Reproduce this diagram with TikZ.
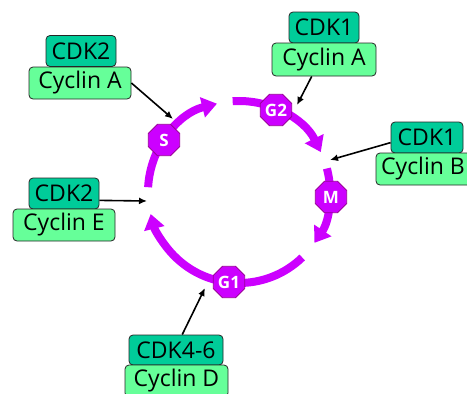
\documentclass[tikz,border=0pt]{standalone}
\usepackage{fontspec}
\setmainfont{Open Sans}
\usetikzlibrary{shapes.geometric,arrows.meta}
\definecolor{cdkcol}{HTML}{00CC99}
\definecolor{cyccol}{HTML}{66FF99}
\definecolor{phasecol}{HTML}{CC00FF}
\definecolor{phaseedge}{HTML}{990099}
\begin{document}
\begin{tikzpicture}[x=1pt,y=-1pt,
  boxbase/.style={draw=black!85, line width=0.8pt, rounded corners=4pt, inner sep=0pt,
    font=\fontsize{23}{26}\selectfont},
  cdkbox/.style={boxbase, fill=cdkcol, minimum height=31pt},
  cycbox/.style={boxbase, fill=cyccol, minimum height=32pt},
  phase/.style={regular polygon, regular polygon sides=8, fill=phasecol, draw=phaseedge,
    line width=0.8pt, minimum size=34pt, inner sep=0pt, text=white,
    font=\fontsize{17}{17}\selectfont\bfseries},
  cyclearc/.style={phasecol, line width=8pt, -{Triangle[length=15pt,width=20pt]}},
  link/.style={black, line width=1.6pt, -{Latex[length=8pt,width=7pt]}}
]
\useasboundingbox (0,0) rectangle (467,394);
\fill[white] (0,0) rectangle (467,394);
\coordinate (c) at (239,192);
% cycle arcs
\draw[cyclearc] (c) ++(-314:91) arc[start angle=-314, end angle=-194, radius=91];
\draw[cyclearc] (c) ++(-177:91) arc[start angle=-177, end angle=-104, radius=91];
\draw[cyclearc] (c) ++(-94:91) arc[start angle=-94, end angle=-26, radius=91];
\draw[cyclearc] (c) ++(-15:91) arc[start angle=-15, end angle=34, radius=91];
% phases
\node[phase] (S) at (164,140) {S};
\node[phase] (G2) at (276,110) {G2};
\node[phase] (M) at (331,197) {M};
\node[phase] (G1) at (229,282) {G1};
% boxes
\node[cdkbox, minimum width=70pt] (cdkA) at (81,51) {CDK2};
\node[cycbox, minimum width=102pt] (cycA) at (80,83) {Cyclin A};
\node[cdkbox, minimum width=70pt] (cdkB) at (324,27.5) {CDK1};
\node[cycbox, minimum width=104pt, minimum height=33pt] (cycB) at (324,59.5) {Cyclin A};
\node[cdkbox, minimum width=72pt] (cdkC) at (427,137.5) {CDK1};
\node[cycbox, minimum width=104pt] (cycC) at (428,169) {\hspace*{-10pt}Cyclin B};
\node[cdkbox, minimum width=70pt] (cdkD) at (64,193.5) {CDK2};
\node[cycbox, minimum width=102pt] (cycD) at (64,225) {Cyclin E};
\node[cdkbox, minimum width=94pt, minimum height=30pt] (cdkE) at (176,350) {CDK4-6};
\node[cycbox, minimum width=103pt] (cycE) at (176.5,381) {Cyclin D};
% arrow ends
\coordinate (e1) at (173,119);
\coordinate (e2) at (297,105);
\coordinate (e3) at (330,160);
\coordinate (e4) at (147,201);
\coordinate (e5) at (205,288);
\draw[link] (cycA.east) -- (e1);
\draw[link] (cycB.234) -- (e2);
\draw[link] (cdkC.188.5) -- (e3);
\draw[link] (cdkD.349.5) -- (e4);
\draw[link] (cdkE.68) -- (e5);
\end{tikzpicture}
\end{document}
